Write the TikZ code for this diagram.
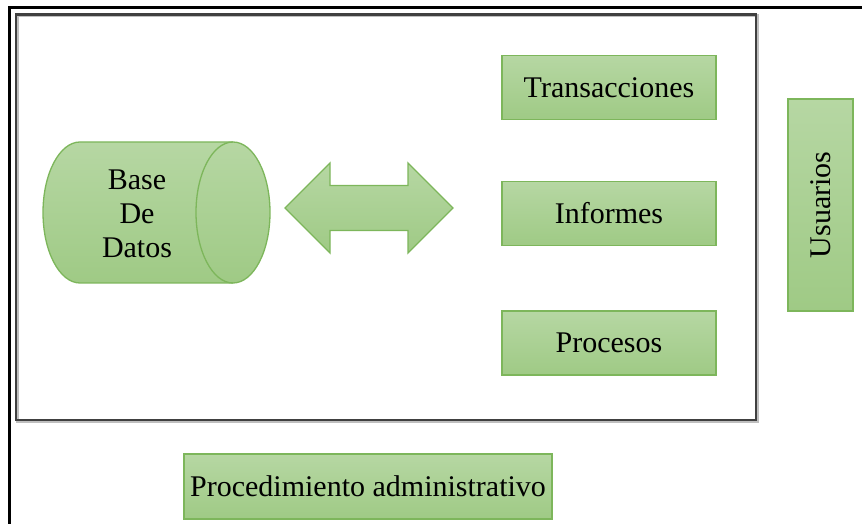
\documentclass[tikz,border=0pt]{standalone}
\usepackage{fontspec}
\setmainfont{Liberation Serif}
\usetikzlibrary{positioning}
\definecolor{verdeclaro}{HTML}{B6D7A3}
\definecolor{verdeoscuro}{HTML}{9FCA85}
\definecolor{verdeborde}{HTML}{7DB65B}
\tikzset{
  relleno/.style={draw=verdeborde,line width=1.3pt,top color=verdeclaro,bottom color=verdeoscuro},
  caja/.style={relleno,minimum width=214pt,minimum height=64pt,inner sep=0pt,font=\fontsize{30}{34}\selectfont},
}
\begin{document}
\begin{tikzpicture}[x=1pt,y=1pt]
      \useasboundingbox (0,0) rectangle (862,524);
      \draw [line width=2.6pt] (9.5,0) to (9.5,516.5) to (862,516.5);
      \draw [line width=3pt,black!25] (17.5,508) rectangle (757.5,102.5);
      \draw [line width=2.2pt,black!75] (16,509.5) rectangle (756,104);
      % cilindro
      \draw [relleno] (233,382) to (80,382) arc[start angle=90,end angle=270,x radius=37,y radius=70.5]
        to (233,241) arc[start angle=-90,end angle=90,x radius=37,y radius=70.5] to cycle;
      \draw [draw=verdeborde,line width=1.3pt] (233,382) arc[start angle=90,end angle=270,x radius=37,y radius=70.5];
      \node [align=center,font=\fontsize{30}{34}\selectfont] (bd) at (137,310) {Base\\De\\Datos};
      % flecha doble
      \draw [relleno] (285,316) to (330,361) to (330,338.5) to (408,338.5) to (408,361) to (453,316)
        to (408,271) to (408,293.5) to (330,293.5) to (330,271) to cycle;
      \node [caja] (trans) at (609,436.5) {Transacciones};
      \node [caja] (inf) at (609,310.5) {Informes};
      \node [caja] (proc) at (609,181) {Procesos};
      \node [caja,rotate=90,minimum width=212pt,minimum height=65pt] (usu) at (820.5,319) {Usuarios};
      \node [caja,minimum width=368pt,minimum height=65pt] (padm) at (368,37.5) {Procedimiento administrativo};
    \end{tikzpicture}
\end{document}
